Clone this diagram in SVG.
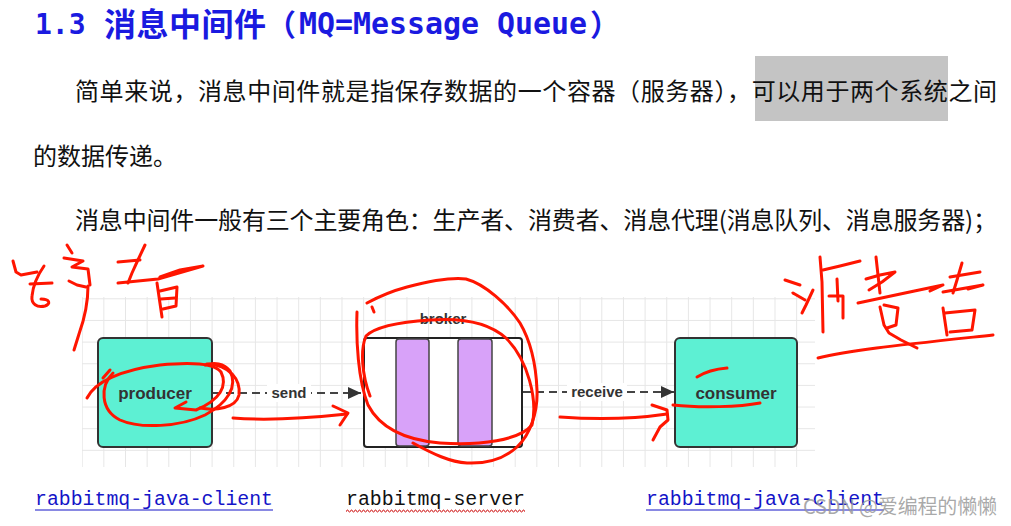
<svg xmlns="http://www.w3.org/2000/svg" width="1011" height="526" viewBox="0 0 1011 526">
<defs>
<style>
.cjk{font-family:"Noto Sans CJK SC","Noto Sans",sans-serif;}
.title{fill:#1a1ae0;font-weight:bold;}
.mono{font-family:"DejaVu Sans Mono","Liberation Mono",monospace;}
.para{font-size:24px;fill:#111;}
.node{stroke:#333;stroke-width:2;}
.lbl{font-family:"Liberation Sans",Arial,sans-serif;font-weight:bold;fill:#333;text-anchor:middle;}
.edge{stroke:#444;stroke-width:2;stroke-dasharray:8 5;fill:none;}
.code{font-family:"Liberation Mono","Courier New",monospace;font-size:20px;}
.ink{fill:none;stroke:#ff1500;stroke-width:3;stroke-linecap:round;stroke-linejoin:round;}
</style>
<pattern id="grid" x="81.7" y="298.3" width="21.65" height="21.65" patternUnits="userSpaceOnUse">
<path d="M0.5,0 V21.65 M0,0.5 H21.65" stroke="#e6e6e6" stroke-width="1" fill="none"/>
</pattern>
<pattern id="wave" x="346" y="509" width="4" height="4" patternUnits="userSpaceOnUse">
<path d="M0,3 L1,1 L2,1 L3,3 L4,3" stroke="#d02020" stroke-width="0.9" fill="none"/>
</pattern>
<marker id="arr" markerUnits="userSpaceOnUse" markerWidth="13" markerHeight="12" refX="13" refY="6" orient="auto">
<path d="M0,0 L13,6 L0,12 z" fill="#333"/>
</marker>
</defs>
<rect width="1011" height="526" fill="#fff"/>

<g id="title">
<text x="35" y="34" class="mono title" font-size="28">1.3</text>
<text x="104" y="36" class="cjk title" font-size="32" textLength="162" lengthAdjust="spacing">消息中间件</text>
<text x="266" y="36" class="cjk title" font-size="30">（</text>
<text x="299" y="34" class="mono title" font-size="30" textLength="288" lengthAdjust="spacingAndGlyphs">MQ=Message Queue</text>
<text x="590" y="36" class="cjk title" font-size="30">）</text>
</g>

<g id="paragraph">
<rect x="755" y="56" width="193" height="65" fill="#c4c4c4"/>
<text x="75" y="100" class="cjk para" textLength="922" lengthAdjust="spacing">简单来说，消息中间件就是指保存数据的一个容器（服务器），可以用于两个系统之间</text>
<text x="33" y="165" class="cjk para">的数据传递。</text>
<text x="75" y="229" class="cjk para" textLength="922" lengthAdjust="spacing">消息中间件一般有三个主要角色：生产者、消费者、消息代理(消息队列、消息服务器)；</text>
</g>

<g id="canvas">
<rect x="82" y="297" width="733" height="170" fill="url(#grid)"/>
</g>

<g id="producer">
<rect x="98" y="338" width="114" height="109" rx="5" fill="#5df0d3" class="node"/>
<text x="155" y="399" class="lbl" font-size="17">producer</text>
</g>

<g id="broker">
<text x="443" y="324" class="lbl" font-size="15" fill="#444">broker</text>
<rect x="364" y="338" width="158" height="109" rx="3" fill="#fff" stroke="#222" stroke-width="2"/>
<rect x="396" y="339" width="33" height="107" rx="3" fill="#d8a2f9" stroke="#444" stroke-width="1.5"/>
<rect x="458" y="339" width="34" height="107" rx="3" fill="#d8a2f9" stroke="#444" stroke-width="1.5"/>
</g>

<g id="consumer">
<rect x="675" y="338" width="122" height="109" rx="5" fill="#5df0d3" class="node"/>
<text x="736" y="399" class="lbl" font-size="17">consumer</text>
</g>

<g id="connectors">
<line x1="213" y1="393" x2="361" y2="393" class="edge" marker-end="url(#arr)"/>
<rect x="267" y="384" width="44" height="18" fill="#fff"/>
<text x="289" y="398" class="lbl" font-size="15">send</text>
<line x1="523" y1="392" x2="674" y2="392" class="edge" marker-end="url(#arr)"/>
<rect x="567" y="383" width="60" height="18" fill="#fff"/>
<text x="597" y="397" class="lbl" font-size="15">receive</text>
</g>

<g id="libs">
<text x="35" y="505" class="code" fill="#1414c8" textLength="238" lengthAdjust="spacingAndGlyphs">rabbitmq-java-client</text>
<line x1="35" y1="510" x2="273" y2="510" stroke="#1414c8" stroke-width="1.2"/>
<text x="346" y="505" class="code" fill="#111" textLength="179" lengthAdjust="spacingAndGlyphs">rabbitmq-server</text>
<rect x="346" y="509" width="179" height="4" fill="url(#wave)"/>
<text x="646" y="505" class="code" fill="#1414c8" textLength="238" lengthAdjust="spacingAndGlyphs">rabbitmq-java-client</text>
<line x1="646" y1="510" x2="884" y2="510" stroke="#1414c8" stroke-width="1.2"/>
<text x="803" y="514" class="cjk" font-size="20" fill="#9a9a9a" fill-opacity="0.85" textLength="194" lengthAdjust="spacing">CSDN @爱编程的懒懒</text>
</g>

<g id="annotations">
<path class="ink" d="M13,261 L16,272 L21,275 L37,272"/>
<path class="ink" d="M44,266 C37,276 33,286 32,296 C31,304 37,308 45,306 C51,304 50,299 41,299"/>
<path class="ink" d="M30,284 L52,283"/>
<path class="ink" d="M67,245 L72,253"/>
<path class="ink" d="M64,258 L83,261 L72,267 L88,269 L90,285"/>
<path class="ink" d="M69,281 L77,285 L86,287"/>
<path class="ink" d="M88,286 C88,302 84,320 79,334 L74,350"/>
<path class="ink" d="M118,262 L140,260"/>
<path class="ink" d="M145,245 L137,262 L132,273 L128,283"/>
<path class="ink" d="M118,283 L158,279 L203,266 L180,270 L160,277"/>
<path class="ink" d="M157,283 L162,317"/>
<path class="ink" d="M160,291 L177,287 L176,306 L163,309"/>
<path class="ink" d="M161,299 L175,298"/>

<path class="ink" d="M785,280 L800,285"/>
<path class="ink" d="M793,293 L805,300"/>
<path class="ink" d="M813,290 L806,305 L802,313"/>
<path class="ink" d="M820,257 L822,282 L823,332"/>
<path class="ink" d="M823,270 L840,266 L860,261"/>
<path class="ink" d="M829,296 L843,296 L843,318"/>
<path class="ink" d="M837,279 L838,301"/>
<path class="ink" d="M876,257 L878,275 L880,293"/>
<path class="ink" d="M866,279 L880,275 L895,272 L882,282 L869,290"/>
<path class="ink" d="M858,303 L905,293 L943,285 L930,291"/>
<path class="ink" d="M880,307 L884,325 L889,333 L901,340 L917,348"/>
<path class="ink" d="M884,305 L898,308 L896,325 L887,328"/>
<path class="ink" d="M962,263 L957,280 L953,293"/>
<path class="ink" d="M950,277 L980,272"/>
<path class="ink" d="M943,292 L983,285 L968,289"/>
<path class="ink" d="M943,308 L947,335"/>
<path class="ink" d="M945,313 L975,310 L972,330 L950,332"/>
<path class="ink" d="M818,358 C850,350 900,345 993,335"/>

<path class="ink" d="M110,370 L103,378"/>
<path class="ink" d="M87,398 C95,382 120,370 160,365 C190,362 214,363 221,372 C228,386 220,400 196,410 L175,408 L186,402"/>
<path class="ink" d="M113,373 C100,386 100,410 120,420 C140,429 180,427 205,415 C228,403 238,386 230,371 C224,363 214,362 205,365"/>
<path class="ink" d="M207,364 C230,365 241,380 239,395 C236,408 216,411 200,408"/>
<path class="ink" d="M233,418 C270,421 310,418 347,414"/>
<path class="ink" d="M333,406 L348,413 L340,425"/>

<path class="ink" d="M367,303 C380,296 392,291 407,287 C430,281 450,277 466,279 C485,284 508,305 520,323 C530,340 536,365 537,390 C538,412 530,435 517,447 C505,458 490,464 467,463 C450,462 433,454 413,443"/>
<path class="ink" d="M372,307 L374,312"/>
<path class="ink" d="M357,312 C356,340 358,380 368,405 C380,428 405,440 440,443 C480,446 520,440 532,425 C538,400 528,360 506,338 C486,320 456,318 430,320 C400,322 376,326 366,336 C360,350 362,375 370,396"/>

<path class="ink" d="M560,417 C600,420 640,418 667,414"/>
<path class="ink" d="M652,405 L667,410 L668,420 L660,427 L653,440"/>
<path class="ink" d="M673,405 C700,408 740,407 760,403"/>
<path class="ink" d="M697,377 C705,372 715,369 727,368"/>
</g>
</svg>
